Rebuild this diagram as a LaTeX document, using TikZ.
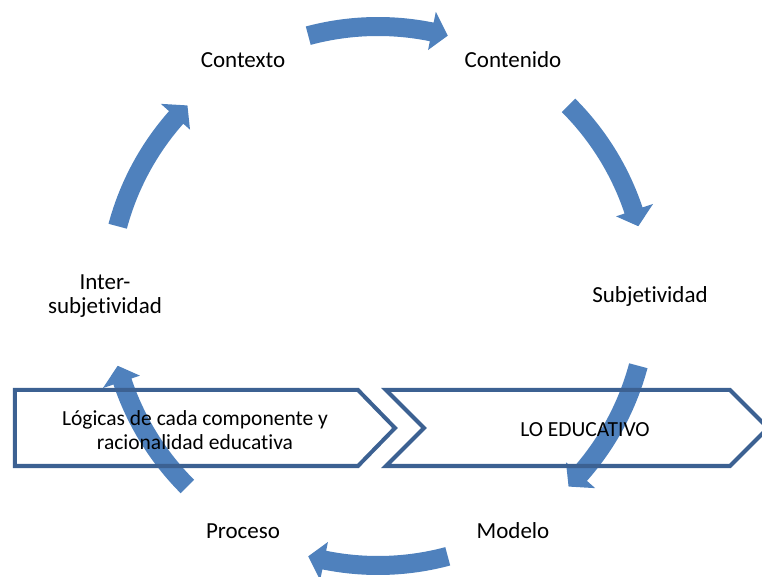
\documentclass[tikz,border=0pt]{standalone}
\usepackage{fontspec}
\setmainfont{Carlito}[Ligatures=NoCommon]
\definecolor{arrowblue}{HTML}{4F81BD}
\definecolor{chevronblue}{HTML}{3C6192}
\tikzset{
  stage/.style={font=\fontsize{23}{24}\selectfont, inner sep=0pt, align=center},
  chevron/.style={draw=chevronblue, line width=4pt, line join=miter},
  chevtext/.style={font=\fontsize{21.5}{24}\selectfont, align=center, inner sep=0pt}
}
\begin{document}
\begin{tikzpicture}[x=1pt,y=1pt]
\useasboundingbox (-378,-281) rectangle (384,296);
\clip (-378,-281) rectangle (384,296);
% cycle arrows
\foreach \a in {90,30,-30,-90,-150,150}{
  \fill[arrowblue] ({\a+15}:279pt) arc[start angle={\a+15}, end angle={\a-11.5}, radius=279pt]
    -- ({\a-11.5}:290pt) -- ({\a-15}:269.5pt) -- ({\a-11.5}:251pt) -- ({\a-11.5}:260pt)
    arc[start angle={\a-11.5}, end angle={\a+15}, radius=260pt] -- cycle;
};
% chevrons
\draw[chevron] (-363,-94) -- (-20,-94) -- (17,-132) -- (-20,-170) -- (-363,-170) -- cycle;
\draw[chevron] (8,-94) -- (352,-94) -- (390,-132) -- (352,-170) -- (8,-170) -- (46,-132) -- cycle;
% stages
\node[stage] (contexto) at (-135,236) {Contexto};
\node[stage] (contenido) at (135,236) {Contenido};
\node[stage] (subjetividad) at (272,0) {Subjetividad};
\node[stage] (modelo) at (135,-235) {Modelo};
\node[stage] (proceso) at (-135,-235) {Proceso};
\node[stage] (inter) at (-273,0) {Inter-\\subjetividad};
% chevron texts
\node[chevtext] (logicas) at (-183,-134) {Lógicas de cada componente y\\racionalidad educativa};
\node[chevtext] (educativo) at (207,-134) {LO EDUCATIVO};
\end{tikzpicture}
\end{document}
